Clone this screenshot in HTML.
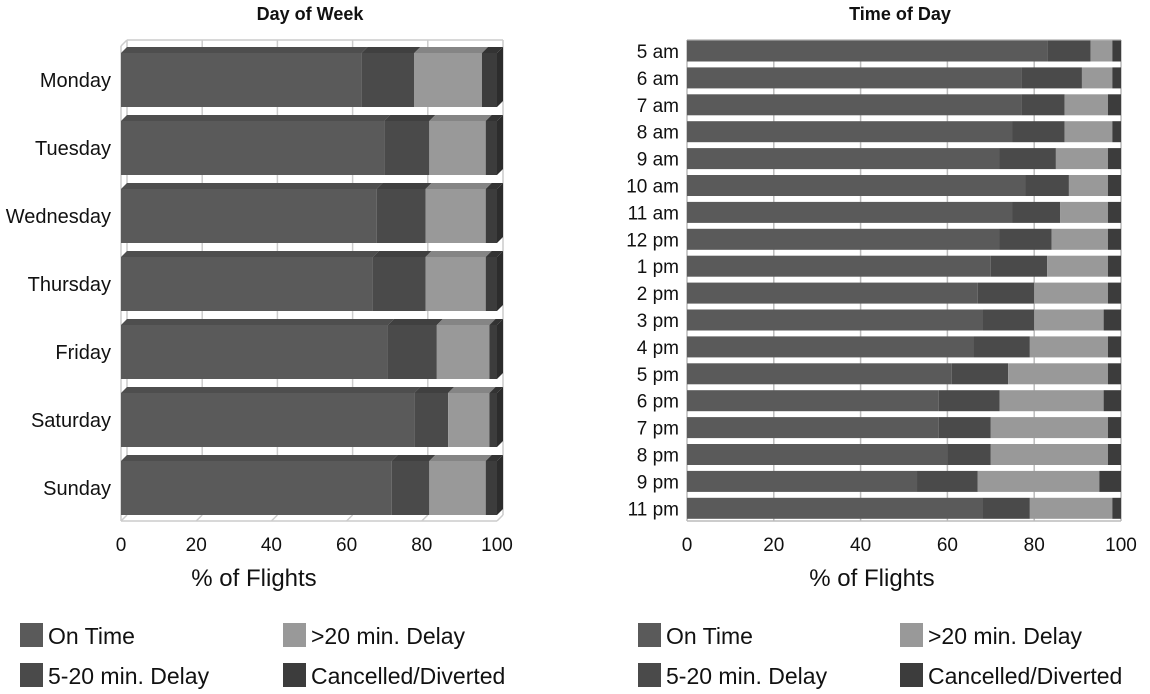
<!DOCTYPE html>
<html><head><meta charset="utf-8"><style>
html,body{margin:0;padding:0;background:#fff;}
svg{display:block;font-family:"Liberation Sans",sans-serif;}
</style></head><body>
<svg id="s" width="1150" height="694" viewBox="0 0 1150 694" xmlns="http://www.w3.org/2000/svg">
<text x="310" y="20" font-size="18" font-weight="bold" text-anchor="middle" fill="#111">Day of Week</text>
<text x="900" y="20" font-size="18" font-weight="bold" text-anchor="middle" fill="#111">Time of Day</text>
<g id="L"></g><g id="R"></g>
<text x="254" y="586" font-size="24" text-anchor="middle" fill="#111">% of Flights</text>
<text x="872" y="586" font-size="24" text-anchor="middle" fill="#111">% of Flights</text>
<g font-size="23" fill="#111">
<rect x="20" y="623" width="23" height="24" fill="#5a5a5a"/><text x="48" y="644">On Time</text>
<rect x="20" y="663" width="23" height="24" fill="#4a4a4a"/><text x="48" y="684">5-20 min. Delay</text>
<rect x="283" y="623" width="23" height="24" fill="#999"/><text x="311" y="644">&gt;20 min. Delay</text>
<rect x="283" y="663" width="23" height="24" fill="#3c3c3c"/><text x="311" y="684">Cancelled/Diverted</text>
<rect x="638" y="623" width="23" height="24" fill="#5a5a5a"/><text x="666" y="644">On Time</text>
<rect x="638" y="663" width="23" height="24" fill="#4a4a4a"/><text x="666" y="684">5-20 min. Delay</text>
<rect x="900" y="623" width="23" height="24" fill="#999"/><text x="928" y="644">&gt;20 min. Delay</text>
<rect x="900" y="663" width="23" height="24" fill="#3c3c3c"/><text x="928" y="684">Cancelled/Diverted</text>
</g>
</svg>
<script>
var NS="http://www.w3.org/2000/svg";
function el(p,t,a,txt){var e=document.createElementNS(NS,t);for(var k in a)e.setAttribute(k,a[k]);if(txt!==undefined)e.textContent=txt;p.appendChild(e);return e;}
var C=["#5a5a5a","#4a4a4a","#999999","#3c3c3c"];
var TOP=["#4e4e4e","#404040","#858585","#333"],SIDE=["#4a4a4a","#3a3a3a","#7a7a7a","#2c2c2c"];
var L=document.getElementById("L");
var x0=121,sc=3.76,dx=6,dy=6;
for(var i=0;i<=5;i++){var gx=x0+dx+i*20*sc;el(L,"line",{x1:gx,y1:40,x2:gx,y2:515,stroke:"#ccc","stroke-width":1.5});
el(L,"line",{x1:x0+i*20*sc,y1:521,x2:gx,y2:515,stroke:"#ccc","stroke-width":1.5});
el(L,"text",{x:x0+i*20*sc,y:551,"font-size":19,"text-anchor":"middle",fill:"#111"},""+i*20);}
el(L,"line",{x1:x0,y1:46,x2:x0,y2:521,stroke:"#ccc","stroke-width":1.5});
el(L,"line",{x1:x0,y1:46,x2:x0+dx,y2:40,stroke:"#ccc","stroke-width":1.5});
el(L,"line",{x1:x0+dx,y1:40,x2:x0+dx+100*sc,y2:40,stroke:"#ccc","stroke-width":1.5});
el(L,"line",{x1:x0,y1:521,x2:x0+100*sc,y2:521,stroke:"#ccc","stroke-width":1.5});
var days=["Monday","Tuesday","Wednesday","Thursday","Friday","Saturday","Sunday"];
var dv=[[64,78,96],[70,82,97],[68,81,97],[67,81,97],[71,84,98],[78,87,98],[72,82,97]];
for(var r=0;r<7;r++){var cy=80+r*68,yt=cy-27,h=54;
el(L,"text",{x:111,y:cy+7,"font-size":20,"text-anchor":"end",fill:"#111"},days[r]);
var b=[0].concat(dv[r]).concat([100]);
for(var j=0;j<4;j++){var a=x0+b[j]*sc,e=x0+b[j+1]*sc;
el(L,"polygon",{points:a+","+yt+" "+(a+dx)+","+(yt-dy)+" "+(e+dx)+","+(yt-dy)+" "+e+","+yt,fill:TOP[j]});
el(L,"rect",{x:a,y:yt,width:e-a,height:h,fill:C[j]});}
var e=x0+100*sc;el(L,"polygon",{points:e+","+yt+" "+(e+dx)+","+(yt-dy)+" "+(e+dx)+","+(yt+h-dy)+" "+e+","+(yt+h),fill:SIDE[3]});}
var R=document.getElementById("R");
var rx=687,rs=4.34;
for(var i=0;i<=5;i++){var gx=rx+i*20*rs;el(R,"line",{x1:gx,y1:40,x2:gx,y2:521,stroke:"#bbb","stroke-width":1.5});
el(R,"text",{x:gx,y:551,"font-size":19,"text-anchor":"middle",fill:"#111"},""+i*20);}
el(R,"line",{x1:rx,y1:40,x2:rx+100*rs,y2:40,stroke:"#bbb","stroke-width":1.5});
el(R,"line",{x1:rx,y1:521,x2:rx+100*rs,y2:521,stroke:"#bbb","stroke-width":1.5});
var hrs=["5 am","6 am","7 am","8 am","9 am","10 am","11 am","12 pm","1 pm","2 pm","3 pm","4 pm","5 pm","6 pm","7 pm","8 pm","9 pm","11 pm"];
var hv=[[83,93,98],[77,91,98],[77,87,97],[75,87,98],[72,85,97],[78,88,97],[75,86,97],[72,84,97],[70,83,97],[67,80,97],[68,80,96],[66,79,97],[61,74,97],[58,72,96],[58,70,97],[60,70,97],[53,67,95],[68,79,98]];
for(var r=0;r<18;r++){var cy=51+r*26.9;
el(R,"text",{x:679,y:cy+7,"font-size":19,"text-anchor":"end",fill:"#111"},hrs[r]);
var b=[0].concat(hv[r]).concat([100]);
for(var j=0;j<4;j++){var a=rx+b[j]*rs,e=rx+b[j+1]*rs;el(R,"rect",{x:a,y:cy-10.5,width:e-a,height:21,fill:C[j]});}}
</script>
</body></html>
